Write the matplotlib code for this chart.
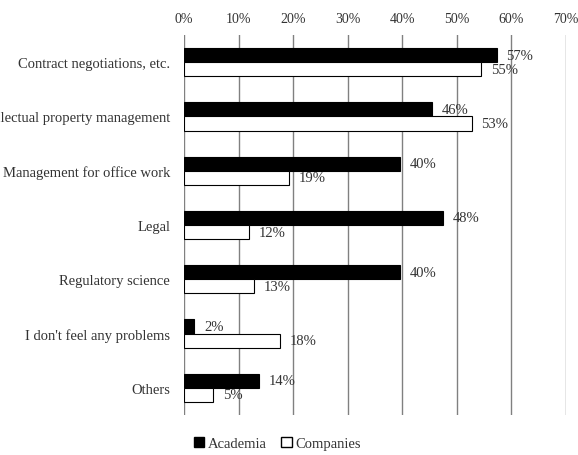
import matplotlib
matplotlib.use('Agg')
import matplotlib.pyplot as plt
from matplotlib.patches import Patch
import numpy as np

plt.rcParams['font.family'] = ['Liberation Serif', 'DejaVu Serif']

categories = ['Contract negotiations, etc.',
              'Intellectual property management',
              'Management for office work',
              'Legal',
              'Regulatory science',
              "I don't feel any problems",
              'Others']
# bar lengths (%), labels as printed
academia = [57.3, 45.4, 39.5, 47.5, 39.5, 1.9, 13.8]
companies = [54.5, 52.7, 19.3, 12.0, 12.8, 17.6, 5.4]
academia_lbl = ['57%', '46%', '40%', '48%', '40%', '2%', '14%']
companies_lbl = ['55%', '53%', '19%', '12%', '13%', '18%', '5%']
xticks = [0, 10, 20, 30, 40, 50, 60, 70]

fig = plt.figure(figsize=(5.78, 4.56), dpi=100)
ax = fig.add_axes([184/578, 1 - 416/456, (566 - 184)/578, 380/456])

y = np.arange(len(categories))
h = 0.26
ax.barh(y - h/2, academia, height=h, color='black', edgecolor='black', lw=0.8, zorder=3)
ax.barh(y + h/2, companies, height=h, color='white', edgecolor='black', lw=0.8, zorder=3)

txt = '#333333'
for i in range(len(categories)):
    ax.annotate(academia_lbl[i], (academia[i], y[i] - h/2), xytext=(7, 0),
                textcoords='offset points', va='center', ha='left',
                fontsize=10.5, color=txt, zorder=4)
    ax.annotate(companies_lbl[i], (companies[i], y[i] + h/2), xytext=(7, 0),
                textcoords='offset points', va='center', ha='left',
                fontsize=10.5, color=txt, zorder=4)

ax.set_xlim(0, 70)
ax.set_ylim(len(categories) - 0.5, -0.5)
ax.set_xticks(xticks)
ax.set_xticklabels([f'{t}%' for t in xticks])
ax.xaxis.tick_top()
ax.set_yticks(y)
ax.set_yticklabels(categories)
ax.tick_params(length=0, labelsize=10.5, labelcolor=txt)
ax.tick_params(axis='x', pad=7, labelsize=10)
ax.tick_params(axis='y', pad=10)
ax.grid(axis='x', color='#808080', lw=1, zorder=0)
ax.grid(axis='y', visible=False)
for s in ax.spines.values():
    s.set_visible(False)

handles = [Patch(facecolor='black', edgecolor='black', label='Academia'),
           Patch(facecolor='white', edgecolor='black', label='Companies')]
fig.legend(handles=handles, loc='center', bbox_to_anchor=(0.48, 0.026), ncol=2,
           frameon=False, fontsize=10.5, handlelength=0.7, handleheight=0.7,
           handletextpad=0.25, columnspacing=1.0, labelcolor=txt)

fig.savefig('out.png', dpi=100)
